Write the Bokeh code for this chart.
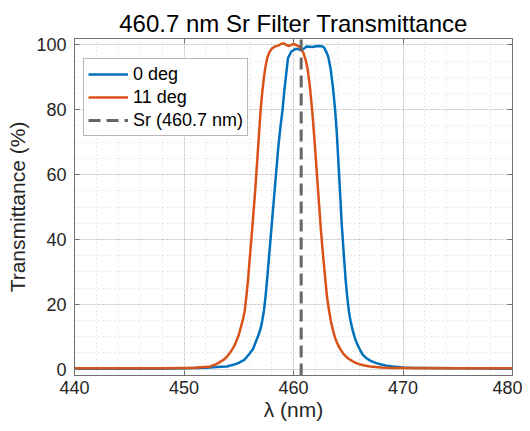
from bokeh.plotting import figure
from bokeh.models import Range1d, LinearAxis, SingleIntervalTicker, Legend, LegendItem, ColumnDataSource
from bokeh.embed import file_html
from bokeh.resources import INLINE

# ---- data ----
wl_0deg = [440, 445, 448, 450, 451, 452, 453, 453.9, 454.5, 455.0, 455.5, 456.0, 456.3, 456.5, 456.8,
           457.0, 457.15, 457.3, 457.45, 457.6, 457.75, 457.9, 458.05, 458.2, 458.4, 458.6, 458.8,
           459.0, 459.15, 459.3, 459.5, 459.8, 460.2, 460.5, 460.7, 461.0, 461.2, 461.7, 462.2,
           462.6, 462.8, 462.9, 463.05, 463.2, 463.4, 463.6, 463.8, 463.95, 464.1, 464.25, 464.4,
           464.6, 464.75, 464.9, 465.05, 465.2, 465.4, 465.6, 465.8, 466.0, 466.3, 466.6, 467.0,
           467.5, 468.0, 468.5, 469.1, 470, 471, 472, 475, 480]
tr_0deg = [0.1, 0.1, 0.1, 0.2, 0.3, 0.4, 0.6, 0.8, 1.3, 1.9, 2.8, 4.8, 6.2, 7.9, 10.5,
           12.5, 15, 18, 22.5, 28, 34, 40, 46, 52, 60, 68, 74.5,
           80, 85.5, 90, 96, 98, 98.8, 98.7, 98.4, 99.0, 99.5, 99.4, 99.7,
           99.6, 99.2, 98.5, 97.5, 96, 92.4, 87, 80, 73, 64, 54.5, 45,
           35, 28, 22.5, 18, 15, 12, 9.6, 7.9, 6.4, 4.5, 3.5, 2.6,
           1.9, 1.4, 1.05, 0.8, 0.5, 0.35, 0.3, 0.2, 0.1]

wl_11deg = [440, 445, 448, 450, 451, 452.4, 453.0, 453.6, 453.9, 454.2, 454.5, 454.7, 455.0, 455.2,
            455.4, 455.55, 455.7, 455.86, 456.0, 456.2, 456.35, 456.5, 456.65, 456.8, 457.0, 457.15,
            457.3, 457.45, 457.6, 457.8, 458.05, 458.3, 458.6, 458.85, 459.1, 459.35, 459.6, 459.8,
            460.0, 460.25, 460.5, 460.7, 460.9, 461.1, 461.3, 461.5, 461.7, 461.9, 462.1, 462.3,
            462.5, 462.7, 462.9, 463.05, 463.25, 463.4, 463.6, 463.8, 464.0, 464.3, 464.6, 464.9,
            465.2, 465.6, 466.0, 466.5, 467.0, 468, 469, 470, 475, 480]
tr_11deg = [0.2, 0.2, 0.2, 0.3, 0.4, 0.8, 1.6, 2.8, 3.7, 5, 6.6, 7.9, 10.5, 13,
            15.5, 18, 22.5, 28, 34, 42, 48.5, 55, 62.5, 70, 80, 85.5,
            90, 93.5, 96, 97.8, 99, 99.5, 99.8, 100.3, 100.5, 100.0, 99.7, 100.0,
            100.3, 100.0, 99.5, 98.8, 97.6, 95.5, 92.4, 87, 80, 71.5, 62, 52.5,
            43, 35, 28, 22.5, 18, 15, 12, 9.6, 7.9, 6.0, 4.5, 3.5,
            2.8, 2.0, 1.5, 1.1, 0.8, 0.5, 0.35, 0.3, 0.2, 0.2]

sr_wavelength = 460.7
x_limits = (440, 480)
y_limits = (-2, 102)

title_text = "460.7 nm Sr Filter Transmittance"
x_label = "λ (nm)"
y_label = "Transmittance (%)"
labels = ["0 deg", "11 deg", "Sr (460.7 nm)"]

BLUE = "#0072BD"
ORANGE = "#D95319"
GRAY = "#666666"
FONT = "Liberation Sans"
TXT = "#262626"
AX = "#707070"

p = figure(width=522, height=423, output_backend="svg", toolbar_location=None,
           x_range=Range1d(*x_limits), y_range=Range1d(*y_limits),
           min_border_left=74, min_border_right=10, min_border_top=38, min_border_bottom=44,
           background_fill_color="white", border_fill_color="white")

p.title.text = title_text
p.title.align = "center"
p.title.text_font = FONT
p.title.text_font_size = "24px"
p.title.text_font_style = "normal"
p.title.text_color = "black"
p.title.standoff = 4

xt = SingleIntervalTicker(interval=10, num_minor_ticks=5)
yt = SingleIntervalTicker(interval=20, num_minor_ticks=4)
p.xaxis.ticker = xt
p.yaxis.ticker = yt

for ax in (p.xaxis[0], p.yaxis[0]):
    ax.major_tick_in = 5
    ax.major_tick_out = 0
    ax.minor_tick_in = 0
    ax.minor_tick_out = 0
    ax.axis_line_color = AX
    ax.major_tick_line_color = AX
    ax.major_label_text_font = FONT
    ax.major_label_text_font_size = "18px"
    ax.major_label_text_color = TXT
    ax.axis_label_text_font = FONT
    ax.axis_label_text_font_size = "21px"
    ax.axis_label_text_font_style = "normal"
    ax.axis_label_text_color = TXT

p.xaxis.axis_label = x_label
p.yaxis.axis_label = y_label
p.xaxis.major_label_standoff = 5
p.yaxis.major_label_standoff = 8
p.xaxis.axis_label_standoff = 1
p.yaxis.axis_label_standoff = 4

for side, tk in (("right", yt), ("above", xt)):
    a = LinearAxis(ticker=tk, major_tick_in=5, major_tick_out=0, minor_tick_in=0, minor_tick_out=0,
                   axis_line_color=AX, major_tick_line_color=AX,
                   major_label_text_font_size="0px", major_label_standoff=0)
    p.add_layout(a, side)

p.outline_line_color = AX

p.xgrid.ticker = xt
p.ygrid.ticker = yt
for g in (p.xgrid[0], p.ygrid[0]):
    g.grid_line_color = "#262626"
    g.grid_line_alpha = 0.13
    g.minor_grid_line_color = "#262626"
    g.minor_grid_line_alpha = 0.2
    g.minor_grid_line_dash = "1 3"

src0 = ColumnDataSource(dict(x=wl_0deg, y=tr_0deg))
src11 = ColumnDataSource(dict(x=wl_11deg, y=tr_11deg))
srsrc = ColumnDataSource(dict(x0=[sr_wavelength], y0=[y_limits[0]], x1=[sr_wavelength], y1=[y_limits[1]]))

r0 = p.line("x", "y", source=src0, line_color=BLUE, line_width=2.5, line_join="round")
r11 = p.line("x", "y", source=src11, line_color=ORANGE, line_width=2.5, line_join="round")
rsr = p.segment("x0", "y0", "x1", "y1", source=srsrc, line_color=GRAY, line_width=3, line_dash="12 6")

legend = Legend(items=[LegendItem(label=labels[0], renderers=[r0]),
                       LegendItem(label=labels[1], renderers=[r11]),
                       LegendItem(label=labels[2], renderers=[rsr])],
                location=(9, 239), glyph_width=40, glyph_height=22, label_height=22,
                label_standoff=5, spacing=1, padding=4, margin=0,
                label_text_font=FONT, label_text_font_size="18px", label_text_color="black",
                border_line_color=AX, border_line_width=1, background_fill_color="white",
                background_fill_alpha=1)
p.add_layout(legend, "center")

open("out.html", "w").write(file_html(p, INLINE))
